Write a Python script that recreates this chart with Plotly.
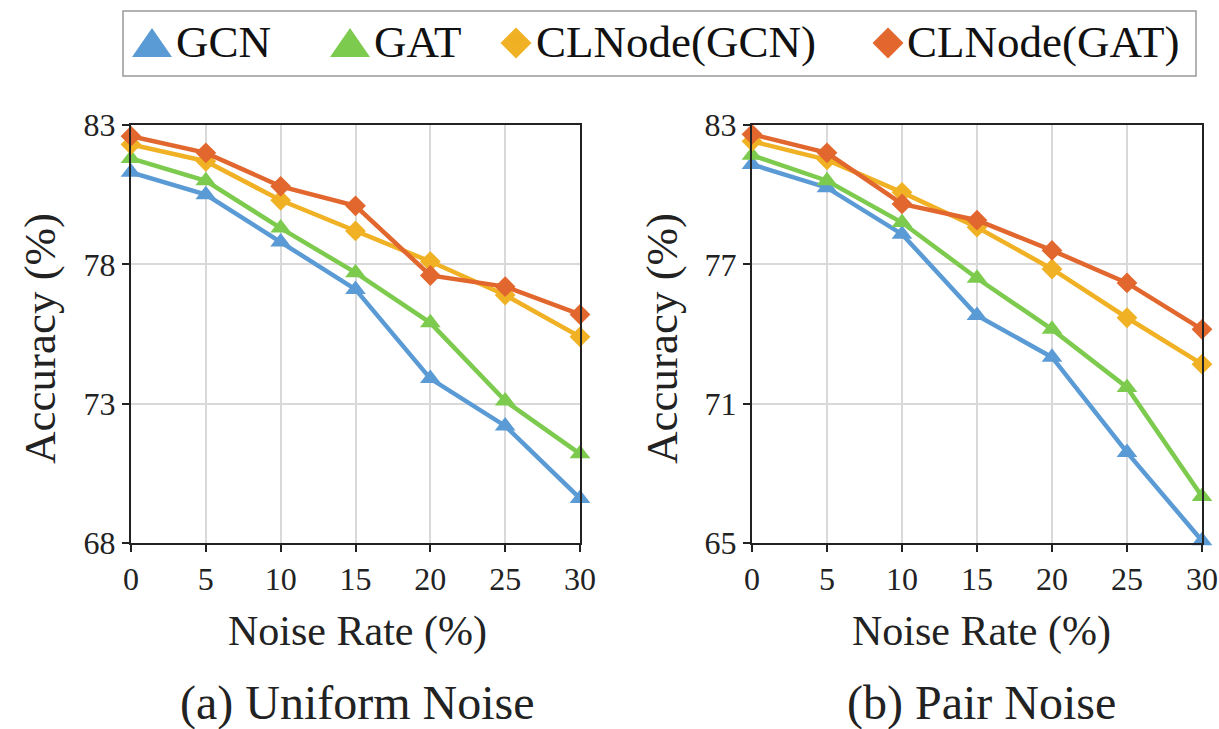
import plotly.graph_objects as go

noise = [0, 5, 10, 15, 20, 25, 30]

uni_gcn = [81.3, 80.5, 78.8, 77.1, 73.9, 72.2, 69.6]
uni_gat = [81.8, 81.0, 79.3, 77.7, 75.9, 73.1, 71.2]
uni_clgcn = [82.3, 81.7, 80.3, 79.2, 78.1, 76.9, 75.4]
uni_clgat = [82.6, 82.0, 80.8, 80.1, 77.6, 77.2, 76.2]

pair_gcn = [81.3, 80.3, 78.3, 74.8, 73.0, 68.9, 65.1]
pair_gat = [81.7, 80.6, 78.8, 76.4, 74.2, 71.7, 67.0]
pair_clgcn = [82.3, 81.5, 80.1, 78.6, 76.8, 74.7, 72.7]
pair_clgat = [82.6, 81.8, 79.6, 78.9, 77.6, 76.2, 74.2]

names = ["GCN", "GAT", "CLNode(GCN)", "CLNode(GAT)"]
colors = ["#5B9BD5", "#7DCB4E", "#F0B124", "#E2672E"]
symbols = ["triangle-up", "triangle-up", "diamond", "diamond"]

left_ticks = [68, 73, 78, 83]
right_ticks = [65, 71, 77, 83]

FONT = "Liberation Serif, Times New Roman, serif"
W, H = 1219, 729


def px(x):
    return x / W


def py(y):
    return 1 - y / H


fig = go.Figure()

uni = [uni_gcn, uni_gat, uni_clgcn, uni_clgat]
pair = [pair_gcn, pair_gat, pair_clgcn, pair_clgat]
msize = [18, 18, 16, 16]

for data, xa, ya in [(uni, "x", "y"), (pair, "x2", "y2")]:
    for i, series in enumerate(data):
        fig.add_trace(go.Scatter(
            x=noise, y=series, mode="lines+markers", xaxis=xa, yaxis=ya,
            line=dict(color=colors[i], width=4.5),
            marker=dict(symbol=symbols[i], size=msize[i], color=colors[i]),
            showlegend=False, cliponaxis=False))

# legend entries: text from Plotly legends, large symbols drawn as shapes
leg_names = ["legend", "legend2", "legend3", "legend4"]
for i in range(4):
    fig.add_trace(go.Scatter(
        x=[None], y=[None], mode="markers", name=names[i], legend=leg_names[i],
        marker=dict(symbol=symbols[i], size=10, color=colors[i], opacity=0)))

axis_common = dict(
    showline=True, linecolor="#222", linewidth=2, mirror=True,
    showgrid=True, gridcolor="#D9D9D9", gridwidth=1.5,
    ticks="outside", ticklen=7, tickcolor="#222", tickwidth=2,
    tickfont=dict(family=FONT, size=32, color="#222"), zeroline=False)

text_starts = [178, 376, 538, 909]
legends = {}
for i, ln in enumerate(leg_names):
    legends[ln] = dict(
        orientation="h", x=px(text_starts[i] - 42), y=py(40),
        xanchor="left", yanchor="middle", bgcolor="rgba(0,0,0,0)", borderwidth=0,
        font=dict(family=FONT, size=45, color="#111"), itemwidth=30)

fig.update_layout(
    width=W, height=H,
    margin=dict(l=0, r=0, t=0, b=0, autoexpand=False),
    paper_bgcolor="white", plot_bgcolor="white",
    font=dict(family=FONT, color="#222"),
    xaxis=dict(domain=[px(131), px(580)], range=[0, 30], tickvals=noise, **axis_common),
    yaxis=dict(domain=[py(543), py(125)], range=[68, 83], tickvals=left_ticks, **axis_common),
    xaxis2=dict(domain=[px(752), px(1202)], range=[0, 30], tickvals=noise, anchor="y2", **axis_common),
    yaxis2=dict(domain=[py(543), py(125)], range=[65, 83], tickvals=right_ticks, anchor="x2", **axis_common),
    **legends,
)

# legend frame
fig.add_shape(type="rect", xref="paper", yref="paper",
              x0=px(123), x1=px(1196), y0=py(76), y1=py(11),
              line=dict(color="#999", width=1.5), fillcolor="rgba(0,0,0,0)")

# legend symbols (styling only)
sym_centers = [152, 350, 516, 888]
cy = 43
for i, cx in enumerate(sym_centers):
    if symbols[i] == "triangle-up":
        pts = [(cx - 20, cy + 14), (cx + 20, cy + 14), (cx, cy - 15)]
    else:
        pts = [(cx - 15.5, cy), (cx, cy - 15.5), (cx + 15.5, cy), (cx, cy + 15.5)]
    path = "M " + " L ".join(f"{px(a):.5f},{py(b):.5f}" for a, b in pts) + " Z"
    fig.add_shape(type="path", xref="paper", yref="paper", path=path,
                  fillcolor=colors[i], line=dict(width=0))

ann = [
    dict(x=357, y=631, text="Noise Rate (%)", size=42, angle=0),
    dict(x=981, y=631, text="Noise Rate (%)", size=42, angle=0),
    dict(x=357, y=703, text="(a) Uniform Noise", size=48, angle=0),
    dict(x=982, y=703, text="(b) Pair Noise", size=48, angle=0),
    dict(x=40, y=339, text="Accuracy (%)", size=45, angle=-90),
    dict(x=662, y=339, text="Accuracy (%)", size=45, angle=-90),
]
for a in ann:
    fig.add_annotation(x=px(a["x"]), y=py(a["y"]), xref="paper", yref="paper", text=a["text"],
                       showarrow=False, textangle=a["angle"], xanchor="center", yanchor="middle",
                       font=dict(family=FONT, size=a["size"], color="#222"))

fig.write_html("out.html", config={"displayModeBar": False},
               post_script="document.body.style.margin='0';document.body.style.overflow='hidden';")
